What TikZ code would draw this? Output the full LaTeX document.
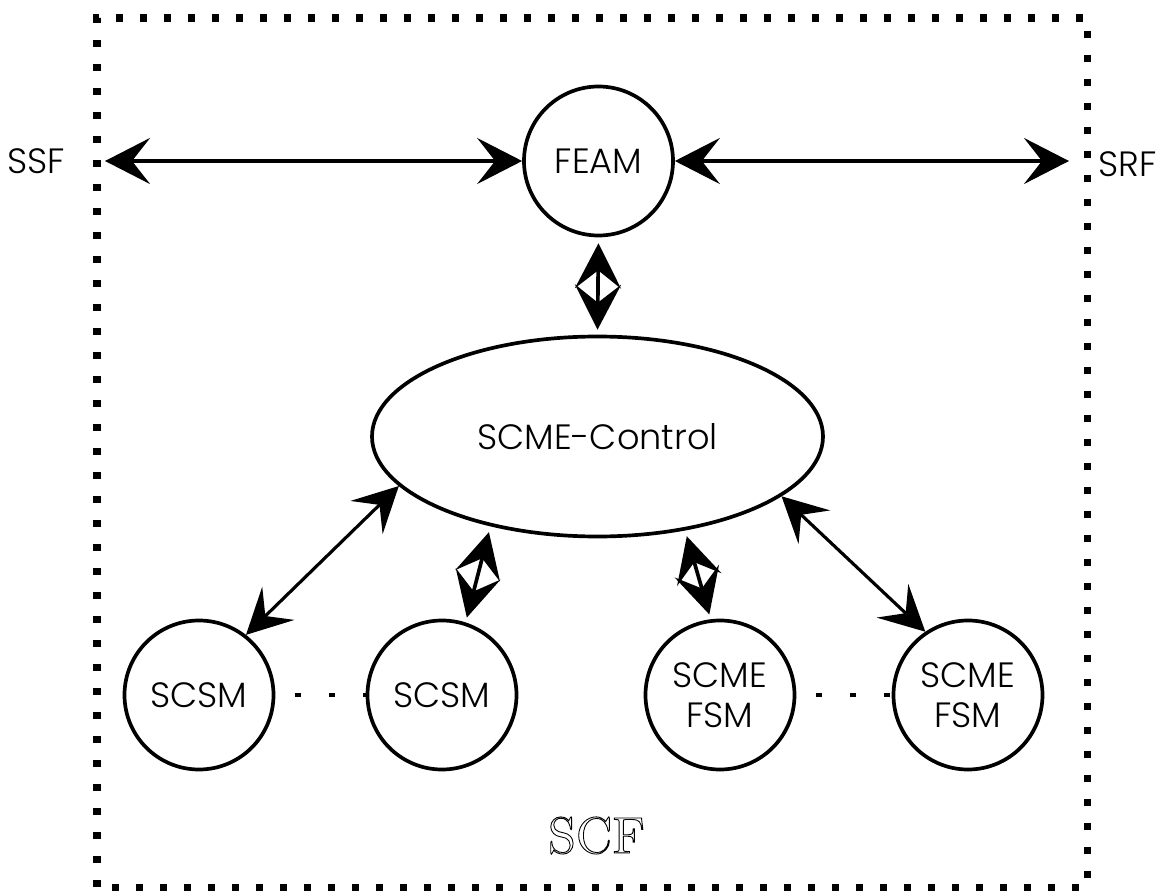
\documentclass[tikz,border=0pt]{standalone}
\usepackage{fontspec}
\newfontfamily\diagfont{Poppins}[UprightFont=* Light]
\usepackage{tikz}
\usetikzlibrary{positioning}
\usetikzlibrary{shapes, arrows.meta, calc}

\begin{document}
\begin{tikzpicture}[
    font=\diagfont\fontsize{10}{11.5}\selectfont,
    >={Stealth[length=0.45cm,width=0.46cm,inset=0.18cm]},
    unit/.style={circle, draw, line width=1.05pt, minimum size=1.49cm, inner sep=0pt, align=center},
    link/.style={<->, line width=1.05pt},
    gap/.style={line width=0.035cm, dash pattern=on 0.06cm off 0.28cm, dash phase=0.14cm}
]
    \useasboundingbox (0,0) rectangle (11.71,8.91);

    % SCF frame
    \draw[line width=0.07cm, dash pattern=on 0.07cm off 0.17cm] (0.97,0.04) rectangle (10.87,8.73);
    \node[font=\rmfamily\fontsize{14.6}{17}\selectfont, anchor=base] (scf) at (5.965,0.38)
        {\special{pdf:literal direct 1 Tr 0.25 w}SCF\special{pdf:literal direct 0 Tr}};

    % modules
    \node[unit] (feam) at (5.985,7.30) {FEAM};
    \node[ellipse, draw, line width=1.05pt, minimum width=4.51cm, minimum height=2.0cm, inner sep=0pt] (ctrl) at (5.975,4.545) {SCME-Control};
    \node[unit] (scsma) at (1.99,1.96) {SCSM};
    \node[unit] (scsmb) at (4.42,1.96) {SCSM};
    \node[unit] (fsma) at (7.20,1.96) {SCME\\FSM};
    \node[unit] (fsmb) at (9.68,1.96) {SCME\\FSM};

    % outside
    \node[anchor=base east, inner sep=0pt] (ssf) at (0.66,7.17) {SSF};
    \node[anchor=base west, inner sep=0pt] (srf) at (10.98,7.15) {SRF};
    \coordinate (ssfin) at (1.05,7.30);
    \coordinate (srfin) at (10.69,7.30);

    % interfaces
    \draw[link] (ssfin) -- (feam.west);
    \draw[link] (feam.east) -- (srfin);
    \draw[link, shorten <=0.06cm, shorten >=0.05cm] (feam.south) -- (ctrl.north);
    \draw[link, line width=0.9pt] (ctrl.194) -- (scsma.52);
    \draw[link, shorten <=0.06cm, shorten >=0.05cm] (ctrl.220) -- (scsmb.72);
    \draw[link, shorten <=0.06cm, shorten >=0.05cm] (ctrl.313) -- (fsma.97);
    \draw[link, line width=0.9pt] (ctrl.342) -- (fsmb.124);

    % more of the same
    \draw[gap] (scsma.east) -- (scsmb.west);
    \draw[gap] (fsma.east) -- (fsmb.west);
\end{tikzpicture}
\end{document}
